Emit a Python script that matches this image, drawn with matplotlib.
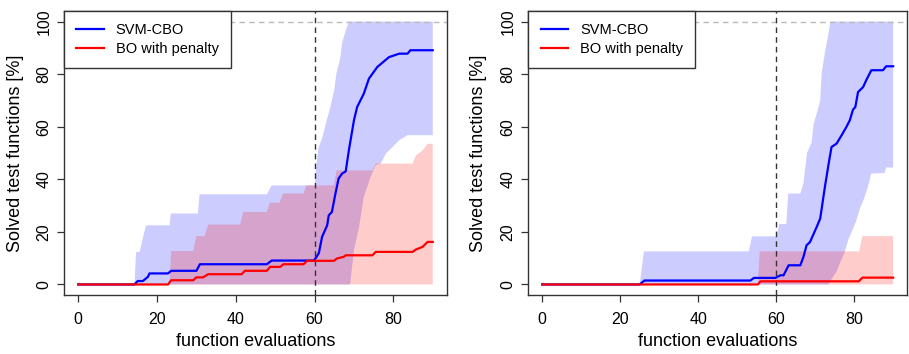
import matplotlib
matplotlib.use('Agg')
import matplotlib.pyplot as plt

# Datos (vertices de las curvas escalonadas)

# Panel izquierdo
l_blue_x = [0, 14.3, 15.1, 16.4, 17.7, 18.1, 22.8, 23.6, 30.0, 30.9, 47.9, 49.1, 59.8, 60.5, 61.1,
            61.9, 63.2, 63.6, 64.4, 65.3, 66.1, 67.0, 67.9, 68.7, 70.0, 70.8, 72.5, 73.8, 75.9,
            78.9, 81.5, 83.6, 84.3, 90]
l_blue_y = [0, 0, 1.3, 1.3, 2.9, 4.2, 4.2, 5.2, 5.2, 7.7, 7.7, 9.1, 9.1, 10.5, 12.0,
            18.1, 22.5, 26.3, 27.6, 34.6, 40.3, 42.2, 43.0, 51.0, 62.5, 67.5, 72.6, 78.3, 82.7,
            86.5, 87.8, 87.8, 89.1, 89.1]
l_blue_up_x = [14.3, 14.7, 15.6, 16.2, 17.2, 23.2, 23.5, 30.4, 30.8, 47.9, 49.1, 60.0, 60.5, 61.0,
               62.0, 63.0, 64.0, 65.0, 65.5, 66.5, 67.0, 68.0, 68.7, 90]
l_blue_up_y = [0, 12.4, 12.4, 16.2, 22.5, 22.5, 27.0, 27.0, 34.3, 34.3, 37.7, 37.7, 46.0, 52.0,
               56.0, 62.0, 67.5, 74.0, 80.0, 86.0, 92.0, 97.0, 100, 100]
l_blue_lo_x = [14.3, 69.0, 70.0, 71.3, 72.5, 74.2, 75.5, 76.8, 78.1, 79.8, 81.5, 83.6, 90]
l_blue_lo_y = [0, 0, 13.0, 21.9, 33.3, 40.9, 45.4, 46.0, 49.8, 52.3, 54.9, 56.8, 56.8]

l_red_x = [0, 22.8, 23.6, 29.2, 30.0, 31.7, 33.0, 41.5, 42.3, 47.9, 48.7, 51.3, 52.1, 57.2, 58.1,
           64.9, 65.7, 67.4, 67.9, 74.7, 75.5, 84.9, 85.7, 87.4, 88.7, 90]
l_red_y = [0, 0, 1.6, 1.6, 2.7, 2.7, 3.9, 3.9, 5.2, 5.2, 6.7, 6.7, 7.7, 7.7, 9.0,
           9.0, 9.9, 10.5, 11.1, 11.1, 12.4, 12.4, 13.3, 14.3, 16.2, 16.2]
l_red_up_x = [23.2, 23.6, 29.2, 30.0, 32.1, 33.0, 41.1, 41.9, 47.9, 48.6, 51.1, 52.0, 57.2, 57.9,
              64.9, 65.6, 74.7, 75.5, 84.9, 85.7, 87.4, 88.7, 90]
l_red_up_y = [0, 12.7, 12.7, 18.4, 18.4, 22.8, 22.8, 27.6, 27.6, 31.1, 31.1, 34.6, 34.6, 37.7,
              37.7, 43.4, 43.4, 46.0, 46.0, 49.1, 51.0, 53.5, 53.5]
l_red_lo_x = [23.2, 90]
l_red_lo_y = [0, 0]

# Panel derecho
r_blue_x = [0, 25.0, 26.2, 53.4, 54.3, 59.8, 61.1, 61.9, 63.2, 66.2, 67.0, 67.8, 68.7, 70.4, 71.3,
            72.5, 73.4, 74.2, 75.5, 76.8, 78.0, 78.9, 79.7, 80.3, 81.0, 82.3, 83.1, 84.4, 87.4,
            88.2, 90]
r_blue_y = [0, 0, 1.5, 1.5, 2.5, 2.5, 3.5, 3.5, 7.3, 7.3, 10.5, 14.9, 16.2, 21.9, 25.1,
            37.1, 45.4, 52.3, 53.6, 56.8, 59.9, 62.5, 66.5, 67.5, 73.2, 75.1, 77.7, 81.5, 81.5,
            83.0, 83.0]
r_blue_up_x = [25.0, 26.1, 53.0, 53.8, 60.1, 60.8, 62.6, 63.1, 66.2, 67.0, 67.9, 69.1, 69.6, 70.4,
               71.3, 71.7, 72.5, 73.4, 73.9, 90]
r_blue_up_y = [0, 12.6, 12.6, 18.3, 18.3, 23.0, 23.0, 34.6, 34.6, 38.5, 50.0, 54.0, 61.0, 65.0,
               70.0, 80.8, 88.0, 95.3, 100, 100]
r_blue_lo_x = [25.0, 73.4, 74.2, 75.5, 76.3, 77.5, 78.5, 79.5, 80.5, 81.5, 82.5, 83.5, 84.4, 87.8,
               88.2, 90]
r_blue_lo_y = [0, 0, 2.0, 5.0, 8.0, 12.0, 17.0, 20.5, 24.0, 29.0, 32.5, 37.0, 42.2, 42.4,
               44.5, 44.5]

r_red_x = [0, 55.3, 56.0, 81.2, 82.1, 90]
r_red_y = [0, 0, 1.2, 1.2, 2.6, 2.6]
r_red_up_x = [55.3, 55.8, 81.3, 82.1, 90]
r_red_up_y = [0, 12.6, 12.6, 18.4, 18.4]
r_red_lo_x = [55.3, 90]
r_red_lo_y = [0, 0]

x_ticks = [0, 20, 40, 60, 80]
y_ticks = [0, 20, 40, 60, 80, 100]

plt.rcParams['font.family'] = ['Liberation Sans', 'DejaVu Sans']
FRAME = '#333333'


def banda(ax, ux, uy, lx, ly, color):
    # poligono: borde superior y borde inferior al reves
    px = list(ux) + list(lx)[::-1]
    py = list(uy) + list(ly)[::-1]
    ax.fill(px, py, color=color, alpha=0.2, linewidth=0)


def panel(ax, datos, ylab_x):
    (bx, by, bux, buy, blx, bly, rx, ry, rux, ruy, rlx, rly) = datos
    banda(ax, bux, buy, blx, bly, 'blue')
    banda(ax, rux, ruy, rlx, rly, 'red')
    ax.axhline(100, color='#bbbbbb', linestyle=(0, (4, 3)), linewidth=1.0)
    ax.axvline(60, color='#333333', linestyle=(0, (4, 3)), linewidth=1.0)
    ax.plot(bx, by, color='blue', linewidth=1.6, label='SVM-CBO')
    ax.plot(rx, ry, color='red', linewidth=1.6, label='BO with penalty')

    ax.set_xlim(-3.6, 93.6)
    ax.set_ylim(-4, 104)
    ax.set_xticks(x_ticks)
    ax.set_yticks(y_ticks)
    ax.tick_params(axis='both', direction='out', length=5, width=0.9, color=FRAME,
                   labelsize=11.5)
    ax.tick_params(axis='x', pad=7)
    ax.tick_params(axis='y', pad=4)
    for lab in ax.get_yticklabels():
        lab.set_rotation(90)
        lab.set_va('center')
    for s in ax.spines.values():
        s.set_color(FRAME)
        s.set_linewidth(1.0)

    ax.set_xlabel('function evaluations', fontsize=13)
    ax.set_ylabel('Solved test functions [%]', fontsize=13)
    ax.xaxis.set_label_coords(0.5, -0.135)
    ax.yaxis.set_label_coords(ylab_x, 0.5)

    leg = ax.legend(loc='upper left', borderaxespad=0, fancybox=False, framealpha=1,
                    edgecolor=FRAME, fontsize=10.5, handlelength=1.9, handletextpad=0.8,
                    borderpad=0.85, labelspacing=0.3)
    leg.get_frame().set_linewidth(1.0)


fig = plt.figure(figsize=(9.09, 3.54), dpi=100)
ax1 = fig.add_axes([0.0704, 0.1667, 0.4213, 0.802])
ax2 = fig.add_axes([0.581, 0.1667, 0.417, 0.802])

panel(ax1, (l_blue_x, l_blue_y, l_blue_up_x, l_blue_up_y, l_blue_lo_x, l_blue_lo_y,
            l_red_x, l_red_y, l_red_up_x, l_red_up_y, l_red_lo_x, l_red_lo_y), -0.105)
panel(ax2, (r_blue_x, r_blue_y, r_blue_up_x, r_blue_up_y, r_blue_lo_x, r_blue_lo_y,
            r_red_x, r_red_y, r_red_up_x, r_red_up_y, r_red_lo_x, r_red_lo_y), -0.108)

fig.savefig('out.png', dpi=100)
